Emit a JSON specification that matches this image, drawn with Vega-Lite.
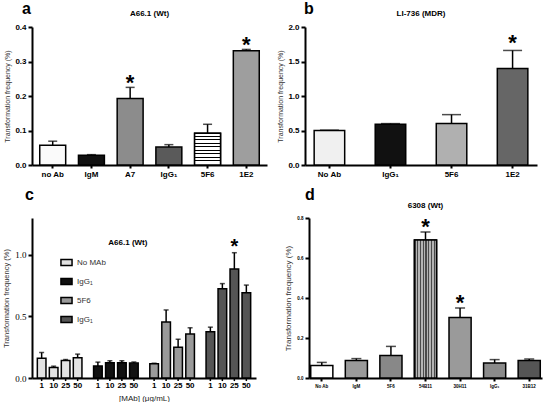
{
  "$schema": "https://vega.github.io/schema/vega-lite/v6.json",
  "padding": {"left": 2, "top": 0, "right": 2, "bottom": 0},
  "background": "white",
  "spacing": 9,
  "resolve": {"scale": {"fill": "independent"}, "legend": {"fill": "independent"}},
  "datasets": {
    "a": [
      {"ab": "no Ab", "value": 0.057, "err": 0.069, "sig": false},
      {"ab": "IgM", "value": 0.028, "err": 0.030, "sig": false},
      {"ab": "A7", "value": 0.193, "err": 0.225, "sig": true},
      {"ab": "IgG₁", "value": 0.052, "err": 0.059, "sig": false},
      {"ab": "5F6", "value": 0.092, "err": 0.118, "sig": false},
      {"ab": "1E2", "value": 0.331, "err": 0.335, "sig": true}
    ],
    "b": [
      {"ab": "No Ab", "value": 0.50, "err": 0.505, "sig": false},
      {"ab": "IgG₁", "value": 0.59, "err": 0.60, "sig": false},
      {"ab": "5F6", "value": 0.60, "err": 0.73, "sig": false},
      {"ab": "1E2", "value": 1.40, "err": 1.66, "sig": true}
    ],
    "c": [
      {"group": "NoMAb", "dose": "1", "value": 0.160, "err": 0.207, "sig": false},
      {"group": "NoMAb", "dose": "10", "value": 0.085, "err": 0.096, "sig": false},
      {"group": "NoMAb", "dose": "25", "value": 0.142, "err": 0.150, "sig": false},
      {"group": "NoMAb", "dose": "50", "value": 0.165, "err": 0.194, "sig": false},
      {"group": "IgG1", "dose": "1", "value": 0.098, "err": 0.129, "sig": false},
      {"group": "IgG1", "dose": "10", "value": 0.124, "err": 0.140, "sig": false},
      {"group": "IgG1", "dose": "25", "value": 0.124, "err": 0.140, "sig": false},
      {"group": "IgG1", "dose": "50", "value": 0.121, "err": 0.130, "sig": false},
      {"group": "5F6", "dose": "1", "value": 0.116, "err": 0.120, "sig": false},
      {"group": "5F6", "dose": "10", "value": 0.455, "err": 0.553, "sig": false},
      {"group": "5F6", "dose": "25", "value": 0.250, "err": 0.315, "sig": false},
      {"group": "5F6", "dose": "50", "value": 0.357, "err": 0.408, "sig": false},
      {"group": "IgG1b", "dose": "1", "value": 0.375, "err": 0.413, "sig": false},
      {"group": "IgG1b", "dose": "10", "value": 0.726, "err": 0.767, "sig": false},
      {"group": "IgG1b", "dose": "25", "value": 0.886, "err": 1.018, "sig": true},
      {"group": "IgG1b", "dose": "50", "value": 0.693, "err": 0.755, "sig": false}
    ],
    "d": [
      {"ab": "No Ab", "value": 0.063, "err": 0.078, "sig": false},
      {"ab": "IgM", "value": 0.087, "err": 0.097, "sig": false},
      {"ab": "5F6", "value": 0.112, "err": 0.158, "sig": false},
      {"ab": "54B11", "value": 0.690, "err": 0.730, "sig": true},
      {"ab": "30H11", "value": 0.303, "err": 0.350, "sig": true},
      {"ab": "IgG₁", "value": 0.075, "err": 0.092, "sig": false},
      {"ab": "31B12", "value": 0.087, "err": 0.095, "sig": false}
    ]
  },
  "vconcat": [
    {
      "spacing": 9,
      "resolve": {"scale": {"fill": "independent"}, "legend": {"fill": "independent"}},
      "hconcat": [
        {
          "width": 235, "height": 138,
          "title": {"text": "a", "dx": -10, "offset": -7},
          "data": {"name": "a"},
          "layer": [
            {"mark": {"type": "rule", "color": "black", "strokeWidth": 1.5},
             "encoding": {"x": {"field": "ab", "type": "nominal", "sort": null, "scale": {"paddingInner": 0.33, "paddingOuter": 0.2}, "axis": {}},
                          "y": {"field": "value", "type": "quantitative", "scale": {"domain": [0, 0.4]}, "axis": {"title": "Transformation frequency  (%)", "values": [0, 0.1, 0.2, 0.3, 0.4], "format": ".1f"}}, "y2": {"field": "err"}}},
            {"mark": {"type": "tick", "orient": "horizontal", "size": 9, "thickness": 1.5, "color": "black"},
             "encoding": {"x": {"field": "ab", "type": "nominal", "sort": null},
                          "y": {"field": "err", "type": "quantitative", "axis": {"title": "Transformation frequency  (%)", "values": [0, 0.1, 0.2, 0.3, 0.4], "format": ".1f"}}}},
            {"mark": {"type": "bar", "stroke": "black", "strokeWidth": 1.5},
             "encoding": {"x": {"field": "ab", "type": "nominal", "sort": null},
                          "y": {"field": "value", "type": "quantitative", "axis": {"title": "Transformation frequency  (%)", "values": [0, 0.1, 0.2, 0.3, 0.4], "format": ".1f"}},
                          "fill": {"field": "ab", "type": "nominal", "legend": null, "scale": {"domain": ["no Ab", "IgM", "A7", "IgG₁", "5F6", "1E2"], "range": ["#fafafa", "#111111", "#8c8c8c", "#5a5a5a", "#b8b8b8", "#9e9e9e"]}}}},
            {"transform": [{"filter": "datum.ab == '5F6'"}],
             "mark": {"type": "bar", "stroke": "black", "strokeWidth": 1.5,
                      "fill": {"gradient": "linear", "x1": 0, "y1": 0, "x2": 0, "y2": 1, "stops": [
                        {"offset": 0, "color": "white"}, {"offset": 0.0778, "color": "white"}, {"offset": 0.0778, "color": "black"}, {"offset": 0.1111, "color": "black"},
                        {"offset": 0.1111, "color": "white"}, {"offset": 0.1889, "color": "white"}, {"offset": 0.1889, "color": "black"}, {"offset": 0.2222, "color": "black"},
                        {"offset": 0.2222, "color": "white"}, {"offset": 0.3, "color": "white"}, {"offset": 0.3, "color": "black"}, {"offset": 0.3333, "color": "black"},
                        {"offset": 0.3333, "color": "white"}, {"offset": 0.4111, "color": "white"}, {"offset": 0.4111, "color": "black"}, {"offset": 0.4444, "color": "black"},
                        {"offset": 0.4444, "color": "white"}, {"offset": 0.5222, "color": "white"}, {"offset": 0.5222, "color": "black"}, {"offset": 0.5556, "color": "black"},
                        {"offset": 0.5556, "color": "white"}, {"offset": 0.6333, "color": "white"}, {"offset": 0.6333, "color": "black"}, {"offset": 0.6667, "color": "black"},
                        {"offset": 0.6667, "color": "white"}, {"offset": 0.7444, "color": "white"}, {"offset": 0.7444, "color": "black"}, {"offset": 0.7778, "color": "black"},
                        {"offset": 0.7778, "color": "white"}, {"offset": 0.8556, "color": "white"}, {"offset": 0.8556, "color": "black"}, {"offset": 0.8889, "color": "black"},
                        {"offset": 0.8889, "color": "white"}, {"offset": 1, "color": "white"}]}},
             "encoding": {"x": {"field": "ab", "type": "nominal", "sort": null},
                          "y": {"field": "value", "type": "quantitative", "axis": {"title": "Transformation frequency  (%)", "values": [0, 0.1, 0.2, 0.3, 0.4], "format": ".1f"}}}},
            {"transform": [{"filter": "datum.sig"}],
             "mark": {"type": "text", "text": "*", "fontSize": 22, "fontWeight": "bold", "baseline": "alphabetic", "dy": 3},
             "encoding": {"x": {"field": "ab", "type": "nominal", "sort": null},
                          "y": {"field": "err", "type": "quantitative", "axis": {"title": "Transformation frequency  (%)", "values": [0, 0.1, 0.2, 0.3, 0.4], "format": ".1f"}}}},
            {"data": {"values": [{}]},
             "mark": {"type": "text", "text": "A66.1  (Wt)", "fontSize": 8, "fontWeight": "bold", "baseline": "middle"},
             "encoding": {"y": {"datum": 0.438, "type": "quantitative", "axis": {"title": "Transformation frequency  (%)", "values": [0, 0.1, 0.2, 0.3, 0.4], "format": ".1f"}}}}
          ]
        },
        {
          "width": 232, "height": 138,
          "title": {"text": "b", "dx": -1, "offset": -7},
          "data": {"name": "b"},
          "layer": [
            {"mark": {"type": "rule", "color": "black", "strokeWidth": 1.5},
             "encoding": {"x": {"field": "ab", "type": "nominal", "sort": null, "scale": {"paddingInner": 0.5, "paddingOuter": 0.15}, "axis": {}},
                          "y": {"field": "value", "type": "quantitative", "scale": {"domain": [0, 2]}, "axis": {"title": "Transformation frequency  (%)", "values": [0, 0.5, 1, 1.5, 2], "format": ".1f"}}, "y2": {"field": "err"}}},
            {"mark": {"type": "tick", "orient": "horizontal", "size": 19, "thickness": 1.5, "color": "black"},
             "encoding": {"x": {"field": "ab", "type": "nominal", "sort": null},
                          "y": {"field": "err", "type": "quantitative", "axis": {"title": "Transformation frequency  (%)", "values": [0, 0.5, 1, 1.5, 2], "format": ".1f"}}}},
            {"mark": {"type": "bar", "stroke": "black", "strokeWidth": 1.5},
             "encoding": {"x": {"field": "ab", "type": "nominal", "sort": null},
                          "y": {"field": "value", "type": "quantitative", "axis": {"title": "Transformation frequency  (%)", "values": [0, 0.5, 1, 1.5, 2], "format": ".1f"}},
                          "fill": {"field": "ab", "type": "nominal", "legend": null, "scale": {"domain": ["No Ab", "IgG₁", "5F6", "1E2"], "range": ["#f0f0f0", "#111111", "#b0b0b0", "#666666"]}}}},
            {"transform": [{"filter": "datum.sig"}],
             "mark": {"type": "text", "text": "*", "fontSize": 22, "fontWeight": "bold", "baseline": "alphabetic", "dy": 0},
             "encoding": {"x": {"field": "ab", "type": "nominal", "sort": null},
                          "y": {"field": "err", "type": "quantitative", "axis": {"title": "Transformation frequency  (%)", "values": [0, 0.5, 1, 1.5, 2], "format": ".1f"}}}},
            {"data": {"values": [{}]},
             "mark": {"type": "text", "text": "LI-736  (MDR)", "fontSize": 8, "fontWeight": "bold", "baseline": "middle"},
             "encoding": {"y": {"datum": 2.19, "type": "quantitative", "axis": {"title": "Transformation frequency  (%)", "values": [0, 0.5, 1, 1.5, 2], "format": ".1f"}}}}
          ]
        }
      ]
    },
    {
      "spacing": 28,
      "resolve": {"scale": {"fill": "independent"}, "legend": {"fill": "independent"}},
      "hconcat": [
        {
          "width": 224, "height": 160,
          "title": {"text": "c", "dx": -7, "offset": 15},
          "data": {"name": "c"},
          "layer": [
            {"mark": {"type": "rule", "color": "black", "strokeWidth": 1.5},
             "encoding": {"x": {"field": "group", "type": "nominal", "sort": ["NoMAb", "IgG1", "5F6", "IgG1b"], "scale": {"paddingInner": 0.147, "paddingOuter": 0.065},
                                "axis": {"labels": false, "ticks": false, "title": "[MAb]  (μg/mL)", "titlePadding": 16, "titleFontSize": 8, "titleColor": "#222"}},
                          "xOffset": {"field": "dose", "type": "ordinal", "sort": ["1", "10", "25", "50"], "scale": {"paddingInner": 0.28, "paddingOuter": 0.14}},
                          "y": {"field": "value", "type": "quantitative", "scale": {"domain": [0, 1.24]}, "axis": {"title": "Transformation frequency  (%)", "titleFontSize": 7.5, "values": [0, 0.5, 1], "format": ".1f", "labelFont": "Liberation Serif", "labelFontWeight": "normal", "labelFontSize": 9}}, "y2": {"field": "err"}}},
            {"mark": {"type": "tick", "orient": "horizontal", "size": 5, "thickness": 1.5, "color": "black"},
             "encoding": {"x": {"field": "group", "type": "nominal", "sort": ["NoMAb", "IgG1", "5F6", "IgG1b"]},
                          "xOffset": {"field": "dose", "type": "ordinal", "sort": ["1", "10", "25", "50"]},
                          "y": {"field": "err", "type": "quantitative", "axis": {"title": "Transformation frequency  (%)", "titleFontSize": 7.5, "values": [0, 0.5, 1], "format": ".1f", "labelFont": "Liberation Serif", "labelFontWeight": "normal", "labelFontSize": 9}}}},
            {"mark": {"type": "bar", "stroke": "black", "strokeWidth": 1.5},
             "encoding": {"x": {"field": "group", "type": "nominal", "sort": ["NoMAb", "IgG1", "5F6", "IgG1b"]},
                          "xOffset": {"field": "dose", "type": "ordinal", "sort": ["1", "10", "25", "50"]},
                          "y": {"field": "value", "type": "quantitative", "axis": {"title": "Transformation frequency  (%)", "titleFontSize": 7.5, "values": [0, 0.5, 1], "format": ".1f", "labelFont": "Liberation Serif", "labelFontWeight": "normal", "labelFontSize": 9}},
                          "fill": {"field": "group", "type": "nominal",
                                   "scale": {"domain": ["NoMAb", "IgG1", "5F6", "IgG1b"], "range": ["#e2e2e2", "#111111", "#9a9a9a", "#555555"]},
                                   "legend": {"orient": "none", "legendX": 30, "legendY": 40, "title": null, "padding": 0,
                                              "labelExpr": "datum.value == 'NoMAb' ? 'No MAb' : datum.value == '5F6' ? '5F6' : 'IgG₁'",
                                              "symbolType": "M-1.6,-0.9H1.6V0.9H-1.6Z", "symbolSize": 48, "symbolStrokeColor": "black", "symbolStrokeWidth": 1.5,
                                              "labelFontSize": 8, "labelColor": "#333333", "labelFont": "Liberation Sans", "rowPadding": 6, "labelOffset": 6}}}},
            {"transform": [{"filter": "datum.sig"}],
             "mark": {"type": "text", "text": "*", "fontSize": 20, "fontWeight": "bold", "baseline": "alphabetic", "dy": 0},
             "encoding": {"x": {"field": "group", "type": "nominal", "sort": ["NoMAb", "IgG1", "5F6", "IgG1b"]},
                          "xOffset": {"field": "dose", "type": "ordinal", "sort": ["1", "10", "25", "50"]},
                          "y": {"field": "err", "type": "quantitative", "axis": {"title": "Transformation frequency  (%)", "titleFontSize": 7.5, "values": [0, 0.5, 1], "format": ".1f", "labelFont": "Liberation Serif", "labelFontWeight": "normal", "labelFontSize": 9}}}},
            {"mark": {"type": "text", "fontSize": 8, "fontWeight": "bold", "baseline": "middle"},
             "encoding": {"x": {"field": "group", "type": "nominal", "sort": ["NoMAb", "IgG1", "5F6", "IgG1b"]},
                          "xOffset": {"field": "dose", "type": "ordinal", "sort": ["1", "10", "25", "50"]},
                          "y": {"datum": -0.062, "type": "quantitative", "axis": {"title": "Transformation frequency  (%)", "titleFontSize": 7.5, "values": [0, 0.5, 1], "format": ".1f", "labelFont": "Liberation Serif", "labelFontWeight": "normal", "labelFontSize": 9}}, "text": {"field": "dose"}}},
            {"mark": {"type": "rule", "color": "black", "strokeWidth": 1.5},
             "encoding": {"x": {"field": "group", "type": "nominal", "sort": ["NoMAb", "IgG1", "5F6", "IgG1b"]},
                          "xOffset": {"field": "dose", "type": "ordinal", "sort": ["1", "10", "25", "50"]},
                          "y": {"datum": 0, "type": "quantitative", "axis": {"title": "Transformation frequency  (%)", "titleFontSize": 7.5, "values": [0, 0.5, 1], "format": ".1f", "labelFont": "Liberation Serif", "labelFontWeight": "normal", "labelFontSize": 9}}, "y2": {"datum": -0.025}}},
            {"data": {"values": [{}]},
             "mark": {"type": "text", "text": "A66.1  (Wt)", "fontSize": 8, "fontWeight": "bold", "baseline": "middle", "dx": 12},
             "encoding": {"x": {"datum": "IgG1"}, "y": {"datum": 1.1, "type": "quantitative", "axis": {"title": "Transformation frequency  (%)", "titleFontSize": 7.5, "values": [0, 0.5, 1], "format": ".1f", "labelFont": "Liberation Serif", "labelFontWeight": "normal", "labelFontSize": 9}}}}
          ]
        },
        {
          "width": 233, "height": 160,
          "title": {"text": "d", "dx": -4, "offset": -1},
          "data": {"name": "d"},
          "layer": [
            {"mark": {"type": "rule", "color": "black", "strokeWidth": 1.5},
             "encoding": {"x": {"field": "ab", "type": "nominal", "sort": null, "scale": {"paddingInner": 0.36, "paddingOuter": 0.05}, "axis": {"labelFontSize": 4.5}},
                          "y": {"field": "value", "type": "quantitative", "scale": {"domain": [0, 0.8]}, "axis": {"title": "Transformation frequency  (%)", "titleFontSize": 8, "values": [0, 0.2, 0.4, 0.6, 0.8], "format": ".1f", "labelFontSize": 4.5}}, "y2": {"field": "err"}}},
            {"mark": {"type": "tick", "orient": "horizontal", "size": 10, "thickness": 1.5, "color": "black"},
             "encoding": {"x": {"field": "ab", "type": "nominal", "sort": null},
                          "y": {"field": "err", "type": "quantitative", "axis": {"title": "Transformation frequency  (%)", "titleFontSize": 8, "values": [0, 0.2, 0.4, 0.6, 0.8], "format": ".1f", "labelFontSize": 4.5}}}},
            {"mark": {"type": "bar", "stroke": "black", "strokeWidth": 1.5},
             "encoding": {"x": {"field": "ab", "type": "nominal", "sort": null},
                          "y": {"field": "value", "type": "quantitative", "axis": {"title": "Transformation frequency  (%)", "titleFontSize": 8, "values": [0, 0.2, 0.4, 0.6, 0.8], "format": ".1f", "labelFontSize": 4.5}},
                          "fill": {"field": "ab", "type": "nominal", "legend": null, "scale": {"domain": ["No Ab", "IgM", "5F6", "54B11", "30H11", "IgG₁", "31B12"], "range": ["#ffffff", "#9a9a9a", "#888888", "#8a8a8a", "#9a9a9a", "#8a8a8a", "#555555"]}}}},
            {"transform": [{"filter": "datum.ab == '54B11'"}],
             "mark": {"type": "bar", "stroke": "black", "strokeWidth": 1.5,
                      "fill": {"gradient": "linear", "x1": 0, "y1": 0, "x2": 1, "y2": 0, "stops": [
                        {"offset": 0, "color": "#4a4a4a"}, {"offset": 0.05, "color": "#4a4a4a"}, {"offset": 0.05, "color": "#b4b4b4"}, {"offset": 0.125, "color": "#b4b4b4"},
                        {"offset": 0.125, "color": "#4a4a4a"}, {"offset": 0.175, "color": "#4a4a4a"}, {"offset": 0.175, "color": "#b4b4b4"}, {"offset": 0.25, "color": "#b4b4b4"},
                        {"offset": 0.25, "color": "#4a4a4a"}, {"offset": 0.3, "color": "#4a4a4a"}, {"offset": 0.3, "color": "#b4b4b4"}, {"offset": 0.375, "color": "#b4b4b4"},
                        {"offset": 0.375, "color": "#4a4a4a"}, {"offset": 0.425, "color": "#4a4a4a"}, {"offset": 0.425, "color": "#b4b4b4"}, {"offset": 0.5, "color": "#b4b4b4"},
                        {"offset": 0.5, "color": "#4a4a4a"}, {"offset": 0.55, "color": "#4a4a4a"}, {"offset": 0.55, "color": "#b4b4b4"}, {"offset": 0.625, "color": "#b4b4b4"},
                        {"offset": 0.625, "color": "#4a4a4a"}, {"offset": 0.675, "color": "#4a4a4a"}, {"offset": 0.675, "color": "#b4b4b4"}, {"offset": 0.75, "color": "#b4b4b4"},
                        {"offset": 0.75, "color": "#4a4a4a"}, {"offset": 0.8, "color": "#4a4a4a"}, {"offset": 0.8, "color": "#b4b4b4"}, {"offset": 0.875, "color": "#b4b4b4"},
                        {"offset": 0.875, "color": "#4a4a4a"}, {"offset": 0.925, "color": "#4a4a4a"}, {"offset": 0.925, "color": "#b4b4b4"}, {"offset": 1, "color": "#b4b4b4"}]}},
             "encoding": {"x": {"field": "ab", "type": "nominal", "sort": null},
                          "y": {"field": "value", "type": "quantitative", "axis": {"title": "Transformation frequency  (%)", "titleFontSize": 8, "values": [0, 0.2, 0.4, 0.6, 0.8], "format": ".1f", "labelFontSize": 4.5}}}},
            {"transform": [{"filter": "datum.sig"}],
             "mark": {"type": "text", "text": "*", "fontSize": 22, "fontWeight": "bold", "baseline": "alphabetic", "dy": 2},
             "encoding": {"x": {"field": "ab", "type": "nominal", "sort": null},
                          "y": {"field": "err", "type": "quantitative", "axis": {"title": "Transformation frequency  (%)", "titleFontSize": 8, "values": [0, 0.2, 0.4, 0.6, 0.8], "format": ".1f", "labelFontSize": 4.5}}}},
            {"data": {"values": [{}]},
             "mark": {"type": "text", "text": "6308 (Wt)", "fontSize": 8, "fontWeight": "bold", "baseline": "middle"},
             "encoding": {"y": {"datum": 0.86, "type": "quantitative", "axis": {"title": "Transformation frequency  (%)", "titleFontSize": 8, "values": [0, 0.2, 0.4, 0.6, 0.8], "format": ".1f", "labelFontSize": 4.5}}}}
          ]
        }
      ]
    }
  ],
  "config": {
    "view": {"stroke": null},
    "font": "Liberation Sans",
    "axis": {"domainColor": "black", "domainWidth": 2, "tickColor": "black", "tickWidth": 2, "tickSize": 4, "labelColor": "black", "labelFontWeight": "bold", "labelFontSize": 8, "labelFont": "Liberation Sans", "titleFont": "Liberation Sans", "titleFontWeight": "normal", "titleColor": "#333333", "titleFontSize": 7, "grid": false, "labelPadding": 2, "titlePadding": 4},
    "axisX": {"tickSize": 3, "labelAngle": 0, "title": null},
    "title": {"anchor": "start", "frame": "group", "fontSize": 16, "fontWeight": "bold", "color": "black", "baseline": "alphabetic"}
  }
}
